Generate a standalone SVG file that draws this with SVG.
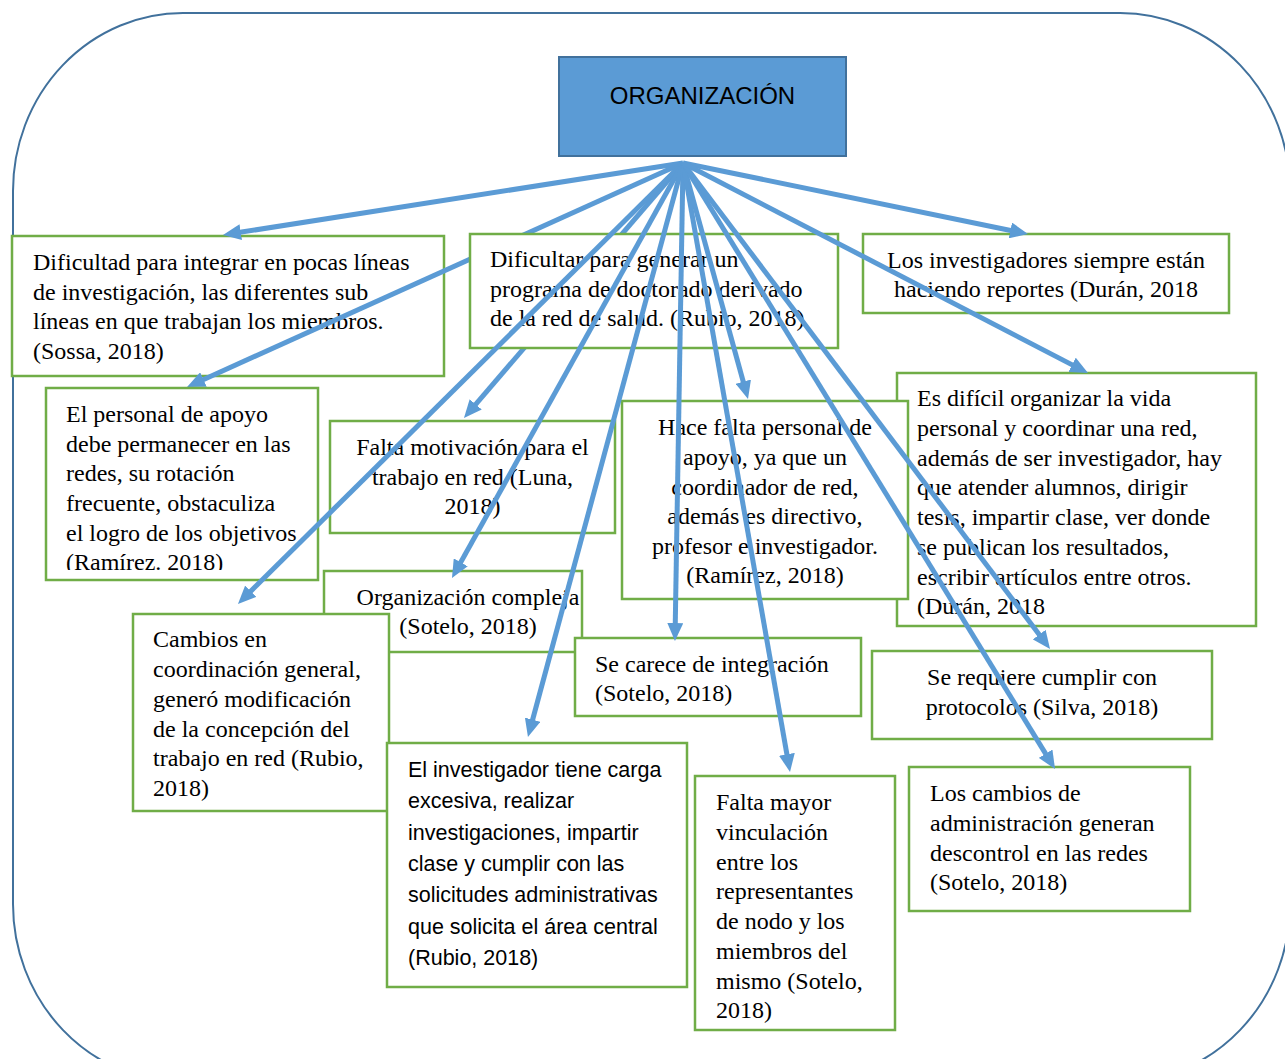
<svg xmlns="http://www.w3.org/2000/svg" width="1285" height="1059" viewBox="0 0 1285 1059">
<defs>
<style>
.frame{fill:none;stroke:#41719C;stroke-width:2}
.root{fill:#5B9BD5;stroke:#41719C;stroke-width:2}
.box{fill:#FFFFFF;stroke:#70AD47;stroke-width:2.5}
.t{font-family:"Liberation Serif","Times New Roman",serif;font-size:24px;fill:#000}
.s{font-family:"Liberation Sans",Arial,sans-serif;font-size:21.5px;fill:#000}
.c{text-anchor:middle}
.rt{font-family:"Liberation Sans",Arial,sans-serif;font-size:24px;fill:#000;text-anchor:middle}
.ln{stroke:#5B9BD5;stroke-width:5;fill:none;marker-end:url(#ah)}
</style>
<marker id="ah" viewBox="0 0 18 16" refX="4" refY="8" markerWidth="18" markerHeight="16" markerUnits="userSpaceOnUse" orient="auto">
<path d="M0,0 L18,8 L0,16 z" fill="#5B9BD5"/>
</marker>
<clipPath id="clip4"><rect x="46" y="388" width="272" height="182"/></clipPath>
</defs>

<rect class="frame" x="13" y="13" width="1277" height="1069" rx="170" ry="178"/>

<g id="n-organizacion">
<rect class="root" x="559" y="57" width="287" height="99"/>
<text class="rt" x="702.5" y="104">ORGANIZACIÓN</text>
</g>

<g id="n-dificultad">
<rect class="box" x="12" y="236" width="432" height="140"/>
<text class="t" x="33" y="270">Dificultad para integrar en pocas líneas</text>
<text class="t" x="33" y="299.5">de investigación, las diferentes sub</text>
<text class="t" x="33" y="329">líneas en que trabajan los miembros.</text>
<text class="t" x="33" y="358.5">(Sossa, 2018)</text>
</g>

<g id="connectors-back">
<line class="ln" x1="683" y1="163" x2="199.8" y2="381.2"/>
<line class="ln" x1="683" y1="163" x2="473.1" y2="407.4"/>
</g>

<g id="n-dificultar">
<rect class="box" x="470" y="234" width="368" height="114"/>
<text class="t" x="490" y="267">Dificultar para generar un</text>
<text class="t" x="490" y="297">programa de doctorado derivado</text>
<text class="t" x="490" y="326">de la red de salud. (Rubio, 2018)</text>
</g>

<g id="n-investigadores">
<rect class="box" x="863" y="234" width="366" height="79"/>
<text class="t c" x="1046" y="268">Los investigadores siempre están</text>
<text class="t c" x="1046" y="297">haciendo reportes (Durán, 2018</text>
</g>

<g id="n-personal">
<rect class="box" x="46" y="388" width="272" height="192"/>
<g clip-path="url(#clip4)">
<text class="t" x="66" y="422">El personal de apoyo</text>
<text class="t" x="66" y="451.5">debe permanecer en las</text>
<text class="t" x="66" y="481">redes, su rotación</text>
<text class="t" x="66" y="511">frecuente, obstaculiza</text>
<text class="t" x="66" y="540.5">el logro de los objetivos</text>
<text class="t" x="66" y="570">(Ramírez. 2018)</text>
</g>
</g>

<g id="n-motivacion">
<rect class="box" x="330" y="421" width="285" height="112"/>
<text class="t c" x="472.5" y="455">Falta motivación para el</text>
<text class="t c" x="472.5" y="485">trabajo en red (Luna,</text>
<text class="t c" x="472.5" y="514">2018)</text>
</g>

<g id="n-dificil">
<rect class="box" x="897" y="373" width="359" height="253"/>
<text class="t" x="917" y="406">Es difícil organizar la vida</text>
<text class="t" x="917" y="436">personal y coordinar una red,</text>
<text class="t" x="917" y="465.5">además de ser investigador, hay</text>
<text class="t" x="917" y="495">que atender alumnos, dirigir</text>
<text class="t" x="917" y="525">tesis, impartir clase, ver donde</text>
<text class="t" x="917" y="555">se publican los resultados,</text>
<text class="t" x="917" y="584.5">escribir artículos entre otros.</text>
<text class="t" x="917" y="614">(Durán, 2018</text>
</g>

<g id="n-hacefalta">
<rect class="box" x="622" y="401" width="286" height="198"/>
<text class="t c" x="765" y="435">Hace falta personal de</text>
<text class="t c" x="765" y="465">apoyo, ya que un</text>
<text class="t c" x="765" y="494.5">coordinador de red,</text>
<text class="t c" x="765" y="524">además es directivo,</text>
<text class="t c" x="765" y="554">profesor e investigador.</text>
<text class="t c" x="765" y="583">(Ramírez, 2018)</text>
</g>

<g id="n-compleja">
<rect class="box" x="324" y="571" width="258" height="81"/>
<text class="t c" x="468" y="605">Organización compleja</text>
<text class="t c" x="468" y="634">(Sotelo, 2018)</text>
</g>

<g id="n-cambios-coord">
<rect class="box" x="133" y="614" width="256" height="197"/>
<text class="t" x="153" y="647">Cambios en</text>
<text class="t" x="153" y="677">coordinación general,</text>
<text class="t" x="153" y="707">generó modificación</text>
<text class="t" x="153" y="737">de la concepción del</text>
<text class="t" x="153" y="766">trabajo en red (Rubio,</text>
<text class="t" x="153" y="796">2018)</text>
</g>

<g id="n-integracion">
<rect class="box" x="575" y="638" width="286" height="78"/>
<text class="t" x="595" y="672">Se carece de integración</text>
<text class="t" x="595" y="701">(Sotelo, 2018)</text>
</g>

<g id="n-protocolos">
<rect class="box" x="872" y="651" width="340" height="88"/>
<text class="t c" x="1042" y="685">Se requiere cumplir con</text>
<text class="t c" x="1042" y="715">protocolos (Silva, 2018)</text>
</g>

<g id="n-carga">
<rect class="box" x="387" y="743" width="300" height="244"/>
<text class="s" x="408" y="777">El investigador tiene carga</text>
<text class="s" x="408" y="808">excesiva, realizar</text>
<text class="s" x="408" y="839.5">investigaciones, impartir</text>
<text class="s" x="408" y="871">clase y cumplir con las</text>
<text class="s" x="408" y="902">solicitudes administrativas</text>
<text class="s" x="408" y="934">que solicita el área central</text>
<text class="s" x="408" y="965">(Rubio, 2018)</text>
</g>

<g id="n-vinculacion">
<rect class="box" x="695" y="776" width="200" height="254"/>
<text class="t" x="716" y="810">Falta mayor</text>
<text class="t" x="716" y="840">vinculación</text>
<text class="t" x="716" y="870">entre los</text>
<text class="t" x="716" y="899">representantes</text>
<text class="t" x="716" y="929">de nodo y los</text>
<text class="t" x="716" y="959">miembros del</text>
<text class="t" x="716" y="989">mismo (Sotelo,</text>
<text class="t" x="716" y="1018">2018)</text>
</g>

<g id="n-administracion">
<rect class="box" x="909" y="767" width="281" height="144"/>
<text class="t" x="930" y="801">Los cambios de</text>
<text class="t" x="930" y="831">administración generan</text>
<text class="t" x="930" y="861">descontrol en las redes</text>
<text class="t" x="930" y="890">(Sotelo, 2018)</text>
</g>

<g id="connectors">
<line class="ln" x1="683" y1="163" x2="236.8" y2="232.8"/>
<line class="ln" x1="683" y1="163" x2="1014.3" y2="231.2"/>
<line class="ln" x1="683" y1="163" x2="247.9" y2="594.1"/>
<line class="ln" x1="683" y1="163" x2="458.8" y2="565.8"/>
<line class="ln" x1="683" y1="163" x2="531.6" y2="723.5"/>
<line class="ln" x1="683" y1="163" x2="675.2" y2="627"/>
<line class="ln" x1="683" y1="163" x2="744.3" y2="385.5"/>
<line class="ln" x1="683" y1="163" x2="787.6" y2="758.2"/>
<line class="ln" x1="683" y1="163" x2="1047.7" y2="757.1"/>
<line class="ln" x1="683" y1="163" x2="1041.6" y2="637.8"/>
<line class="ln" x1="683" y1="163" x2="1075.6" y2="366.6"/>
</g>
</svg>
